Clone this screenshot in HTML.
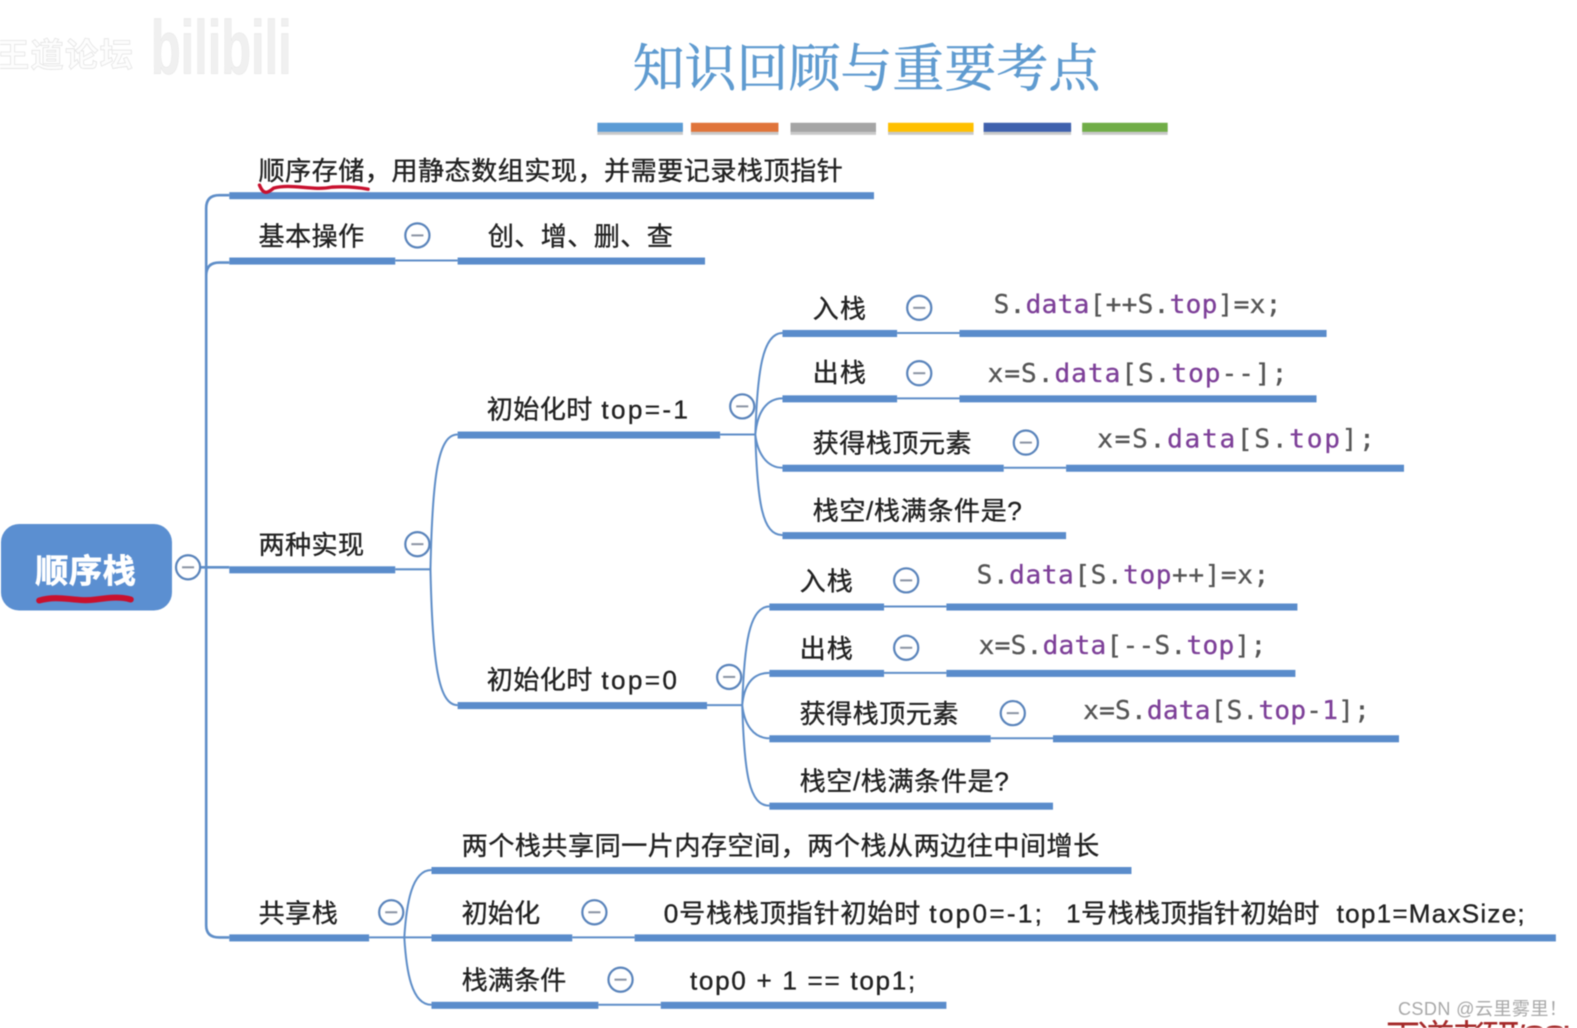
<!DOCTYPE html>
<html><head><meta charset="utf-8">
<style>
html,body{margin:0;padding:0;background:#fff;width:1577px;height:1028px;overflow:hidden}
svg{display:block;filter:blur(.5px)}
text{font-family:"Liberation Sans","Noto Sans CJK SC",sans-serif;font-size:26px;fill:#222;stroke:#222;stroke-width:.35}
.c{font-family:"DejaVu Sans Mono","Liberation Mono",monospace;font-size:26px;fill:#555;stroke:#555;stroke-width:.3}
.c tspan{fill:#7d3f98;stroke:#7d3f98}
.b{fill:#5a8ccb}
.l{fill:none;stroke:#5f8ec8;stroke-width:2}
.t circle{fill:#fff;stroke:#5a84bb;stroke-width:2.2}
.t path{stroke:#8a93a3;stroke-width:2;fill:none}
</style></head><body>
<svg width="1577" height="1028" viewBox="0 0 1568 1022" xmlns="http://www.w3.org/2000/svg">
<!-- watermark -->
<text x="-4" y="66" style="font-size:33px;font-weight:bold;fill:#fdfdfd;stroke:#e4e4e4;stroke-width:.8" textLength="136">王道论坛</text>
<text x="150" y="73" style="font-size:76px;font-weight:bold;fill:#f0f0f0;stroke:#e6e6e6;stroke-width:.6" textLength="140" lengthAdjust="spacingAndGlyphs">bilibili</text>
<!-- title -->
<text x="629" y="86" style="font-family:'Noto Serif CJK SC',serif;font-size:51.5px;fill:#5f9bd0;stroke:#5f9bd0;stroke-width:.6" textLength="465">知识回顾与重要考点</text>
<g>
<rect x="594" y="125" width="85" height="9" fill="#c9c9c9"/><rect x="687" y="125" width="87" height="9" fill="#c9c9c9"/><rect x="786" y="125" width="85" height="9" fill="#c9c9c9"/><rect x="883" y="125" width="85" height="9" fill="#c9c9c9"/><rect x="978" y="125" width="87" height="9" fill="#c9c9c9"/><rect x="1076" y="125" width="85" height="9" fill="#c9c9c9"/>
<rect x="594" y="122" width="85" height="9" fill="#5b9bd5"/><rect x="687" y="122" width="87" height="9" fill="#e0743a"/><rect x="786" y="122" width="85" height="9" fill="#a5a5a5"/><rect x="883" y="122" width="85" height="9" fill="#ffc000"/><rect x="978" y="122" width="87" height="9" fill="#3f61ad"/><rect x="1076" y="122" width="85" height="9" fill="#70ad47"/>
</g>
<!-- connectors -->
<path class="l" d="M199 564H228M228 194H218Q205 194 205 207V920Q205 932 218 932H228M228 261H218Q205 261 205 274" style="stroke-width:2.6"/>
<path class="l" d="M393 259H455M393 566H428M455 432C436 432 430 470 428 566C430 660 436 701 455 701"/>
<path class="l" d="M716 432H751M778 331C758 331 753 370 751 432C753 500 758 532 778 532M778 396C762 396 753 410 751 432C753 450 762 465 778 465"/>
<path class="l" d="M892 331H954M892 396H954M998 465H1060"/>
<path class="l" d="M703 701H738M765 603C745 603 740 640 738 701C740 770 745 801 765 801M765 669C749 669 740 680 738 701C740 720 749 734 765 734"/>
<path class="l" d="M879 603H941M879 669H941M985 734H1047"/>
<path class="l" d="M367 932H402M429 865C409 865 404 900 402 932C404 965 409 999 429 999M402 932H429"/>
<path class="l" d="M569 932H631M595 999H657"/>
<!-- bars -->
<g class="b">
<rect x="228" y="191" width="641" height="7"/>
<rect x="228" y="256" width="165" height="7"/><rect x="455" y="256" width="246" height="7"/>
<rect x="228" y="563" width="165" height="7"/>
<rect x="455" y="429" width="261" height="7"/>
<rect x="778" y="328" width="114" height="7"/><rect x="954" y="328" width="365" height="7"/>
<rect x="778" y="393" width="114" height="7"/><rect x="954" y="393" width="355" height="7"/>
<rect x="778" y="462" width="220" height="7"/><rect x="1060" y="462" width="336" height="7"/>
<rect x="778" y="529" width="282" height="7"/>
<rect x="455" y="698" width="248" height="7"/>
<rect x="765" y="600" width="114" height="7"/><rect x="941" y="600" width="349" height="7"/>
<rect x="765" y="666" width="114" height="7"/><rect x="941" y="666" width="347" height="7"/>
<rect x="765" y="731" width="220" height="7"/><rect x="1047" y="731" width="344" height="7"/>
<rect x="765" y="798" width="282" height="7"/>
<rect x="228" y="929" width="139" height="7"/>
<rect x="429" y="862" width="696" height="7"/>
<rect x="429" y="929" width="140" height="7"/><rect x="631" y="929" width="916" height="7"/>
<rect x="429" y="996" width="166" height="7"/><rect x="657" y="996" width="284" height="7"/>
</g>
<!-- root -->
<rect x="1" y="521" width="170" height="86" rx="18" fill="#5b8fd1"/>
<text x="35" y="579" style="font-size:33px;font-weight:bold;fill:#fff;stroke:#fff;stroke-width:.6" textLength="100">顺序栈</text>
<path d="M39 597C60 591 75 599 95 596C110 594 120 593 130 596" fill="none" stroke="#c8102e" stroke-width="6" stroke-linecap="round"/>
<path d="M258 184C262 194 266 192 272 187C290 182 310 190 330 186C345 185 355 186 366 188" fill="none" stroke="#c8102e" stroke-width="3.4" stroke-linecap="round"/>
<!-- toggles -->
<g class="t">
<g transform="translate(187,564)"><circle r="12"/><path d="M-6 0H6"/></g>
<g transform="translate(415,234)"><circle r="12"/><path d="M-6 0H6"/></g>
<g transform="translate(415,541)"><circle r="12"/><path d="M-6 0H6"/></g>
<g transform="translate(738,404)"><circle r="12"/><path d="M-6 0H6"/></g>
<g transform="translate(914,306)"><circle r="12"/><path d="M-6 0H6"/></g>
<g transform="translate(914,371)"><circle r="12"/><path d="M-6 0H6"/></g>
<g transform="translate(1020,440)"><circle r="12"/><path d="M-6 0H6"/></g>
<g transform="translate(725,673)"><circle r="12"/><path d="M-6 0H6"/></g>
<g transform="translate(901,577)"><circle r="12"/><path d="M-6 0H6"/></g>
<g transform="translate(901,644)"><circle r="12"/><path d="M-6 0H6"/></g>
<g transform="translate(1007,709)"><circle r="12"/><path d="M-6 0H6"/></g>
<g transform="translate(389,907)"><circle r="12"/><path d="M-6 0H6"/></g>
<g transform="translate(591,907)"><circle r="12"/><path d="M-6 0H6"/></g>
<g transform="translate(617,974)"><circle r="12"/><path d="M-6 0H6"/></g>
</g>
<!-- labels -->
<text x="257" y="179" textLength="581">顺序存储，用静态数组实现，并需要记录栈顶指针</text>
<text x="257" y="244" textLength="105">基本操作</text>
<text x="485" y="244" textLength="184">创、增、删、查</text>
<text x="257" y="551" textLength="105">两种实现</text>
<text x="484" y="416" textLength="105">初始化时</text><text x="598" y="416" textLength="86">top=-1</text>
<text x="808" y="316" textLength="53">入栈</text>
<text x="808" y="380" textLength="53">出栈</text>
<text x="808" y="450" textLength="158">获得栈顶元素</text>
<text x="808" y="517" textLength="208">栈空/栈满条件是?</text>
<text x="484" y="685" textLength="105">初始化时</text><text x="598" y="685" textLength="75">top=0</text>
<text x="795" y="587" textLength="53">入栈</text>
<text x="795" y="654" textLength="53">出栈</text>
<text x="795" y="719" textLength="158">获得栈顶元素</text>
<text x="795" y="786" textLength="208">栈空/栈满条件是?</text>
<text x="257" y="917" textLength="79">共享栈</text>
<text x="459" y="850" textLength="634">两个栈共享同一片内存空间，两个栈从两边往中间增长</text>
<text x="459" y="917" textLength="78">初始化</text>
<text x="459" y="984" textLength="104">栈满条件</text>
<text x="660" y="917" textLength="255">0号栈栈顶指针初始时</text><text x="924" y="917" textLength="112">top0=-1;</text>
<text x="1060" y="917" textLength="252">1号栈栈顶指针初始时</text><text x="1329" y="917" textLength="187">top1=MaxSize;</text>
<text x="686" y="984" textLength="224">top0 + 1 == top1;</text>
<!-- code -->
<text class="c" x="988" y="311" textLength="286">S.<tspan>data</tspan>[++S.<tspan>top</tspan>]=x;</text>
<text class="c" x="982" y="380" textLength="298">x=S.<tspan>data</tspan>[S.<tspan>top</tspan>--];</text>
<text class="c" x="1091" y="445" textLength="276">x=S.<tspan>data</tspan>[S.<tspan>top</tspan>];</text>
<text class="c" x="971" y="580" textLength="291">S.<tspan>data</tspan>[S.<tspan>top</tspan>++]=x;</text>
<text class="c" x="973" y="650" textLength="286">x=S.<tspan>data</tspan>[--S.<tspan>top</tspan>];</text>
<text class="c" x="1077" y="715" textLength="285">x=S.<tspan>data</tspan>[S.<tspan>top</tspan>-<tspan>1</tspan>];</text>
<!-- bottom corner watermark -->
<text x="1376" y="1046" style="font-size:38px;fill:#a52a2a;stroke:none" textLength="202">王道考研/CSK</text>
<text x="1390" y="1009" style="font-size:18px;fill:#a8a8a8;stroke:none" textLength="168">CSDN @云里雾里！</text>
</svg>
</body></html>
